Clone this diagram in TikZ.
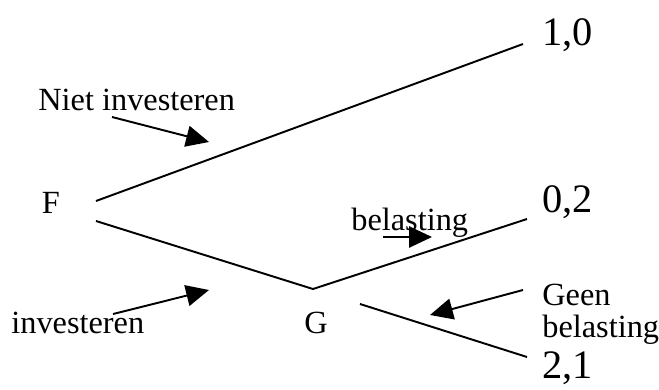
\documentclass[tikz,border=0pt]{standalone}
\usepackage{fontspec}
\setmainfont{Liberation Serif}
\usetikzlibrary{arrows.meta}
\begin{document}
\begin{tikzpicture}[
  lbl/.style={anchor=base west,inner sep=0pt,font=\fontsize{18.4}{20}\selectfont},
  pay/.style={anchor=base west,inner sep=0pt,font=\fontsize{23}{25}\selectfont},
  branch/.style={line width=1.1pt},
  pointer/.style={line width=1.1pt,-{Triangle[length=13pt,width=12pt]}}]

\useasboundingbox (0,0) rectangle (13.18,7.78);

% players
\node[lbl] (f) at (0.83,3.52) {F};
\node[lbl] (g) at (6.08,1.12) {G};

% payoffs
\node[pay] (p10) at (10.84,6.88) {1,0};
\node[pay] (p02) at (10.84,3.54) {0,2};
\node[pay] (p21) at (10.84,0.22) {2,1};

% labels
\node[lbl] (niet) at (0.76,5.58) {Niet investeren};
\node[lbl] (inv) at (0.22,1.12) {investeren};
\node[lbl] (bel) at (7.02,3.18) {belasting};
\node[lbl] (geen) at (10.84,1.68) {Geen};
\node[lbl] (geenbel) at (10.84,1.04) {belasting};

% branch ends
\coordinate (fa) at (1.92,3.76);
\coordinate (fb) at (1.92,3.36);
\coordinate (gn) at (6.26,2.00);
\coordinate (ga) at (7.20,1.70);
\coordinate (e10) at (10.46,6.90);
\coordinate (e02) at (10.54,3.40);
\coordinate (e21) at (10.54,0.64);

\draw[branch] (fa) -- (e10);
\draw[branch] (fb) -- (gn) -- (e02);
\draw[branch] (ga) -- (e21);

% arrows
\coordinate (n1) at (2.24,5.44);
\coordinate (n2) at (4.18,4.94);
\coordinate (i1) at (2.26,1.50);
\coordinate (i2) at (4.18,1.98);
\coordinate (b1) at (7.66,3.04);
\coordinate (b2) at (8.64,3.04);
\coordinate (g1) at (10.46,1.98);
\coordinate (g2) at (8.60,1.48);

\draw[pointer] (n1) -- (n2);
\draw[pointer] (i1) -- (i2);
\draw[pointer] (b1) -- (b2);
\draw[pointer] (g1) -- (g2);
\end{tikzpicture}
\end{document}
